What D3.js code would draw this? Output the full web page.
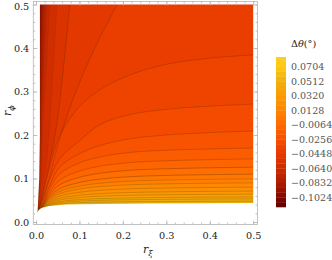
<!DOCTYPE html>
<html>
<head>
<meta charset="utf-8">
<script src="https://cdn.jsdelivr.net/npm/d3@7"></script>
<style>
  html, body { margin: 0; padding: 0; background: #fff; }
  svg text { font-family: "DejaVu Serif", "Liberation Serif", serif !important; }
</style>
</head>
<body>
<svg width="332" height="260"></svg>
<script>
// tick labels
var axisTicks = [0, 0.1, 0.2, 0.3, 0.4, 0.5];
var minorTicks = d3.range(0, 26).map(function(i) { return i / 50; });
var legendTicks = [0.0704, 0.0512, 0.032, 0.0128, -0.0064, -0.0256, -0.0448, -0.064, -0.0832, -0.1024];

// band edges of the legend, dark to yellow
var bandEdges = [-0.1152, -0.1088, -0.1024, -0.096, -0.0896, -0.0832, -0.0768, -0.0704, -0.064, -0.0576,
    -0.0512, -0.0448, -0.0384, -0.032, -0.0256, -0.0192, -0.0128, -0.0064, 0, 0.0064, 0.0128, 0.0192,
    0.0256, 0.032, 0.0384, 0.0448, 0.0512, 0.0576, 0.064, 0.0704, 0.0768, 0.0832];
var colorValues = [-0.1152, -0.1024, -0.0832, -0.064, -0.0448, -0.0256, -0.0064, 0.0128, 0.032, 0.0512, 0.0704, 0.0832];
var colorRange = ["#5a0000", "#860800", "#ac1c00", "#cc2c00", "#e83a00", "#f64e00", "#ff6a00", "#ff8400", "#fb9a04", "#eeb00c", "#ffc814", "#ffd020"];
var plotGold = "#e4ac10";

// outline of the region where the surface exists
var domainEdge = [[0.009, 0.5], [0.009, 0.2], [0.0075, 0.1], [0.005, 0.05], [0.0035, 0.021], [0.006, 0.027], [0.009, 0.03],
    [0.014, 0.0325], [0.021, 0.0345], [0.03, 0.0365], [0.044, 0.038], [0.07, 0.04], [0.1, 0.041], [0.25, 0.0428], [0.5, 0.0437], [0.5, 0.5]];

// contours that run up to the top edge, read as [x, y], lowest level first
var steep0 = [[0.003, 0.028], [0.0035, 0.06], [0.004, 0.12], [0.0048, 0.234], [0.0055, 0.36], [0.0062, 0.5]];
var steep1 = [[0.0032, 0.028], [0.004, 0.06], [0.005, 0.12], [0.006, 0.234], [0.007, 0.36], [0.0085, 0.5]];
var steep2 = [[0.0035, 0.028], [0.0045, 0.06], [0.0055, 0.12], [0.007, 0.234], [0.0085, 0.36], [0.0105, 0.5]];
var steep3 = [[0.0038, 0.028], [0.005, 0.06], [0.0065, 0.12], [0.0085, 0.234], [0.0105, 0.36], [0.013, 0.5]];
var steep4 = [[0.004, 0.03], [0.0055, 0.06], [0.0075, 0.12], [0.01, 0.234], [0.0125, 0.36], [0.016, 0.5]];
var steep5 = [[0.004, 0.03], [0.006, 0.06], [0.0085, 0.12], [0.011, 0.234], [0.015, 0.36], [0.02, 0.5]];
var steep6 = [[0.004, 0.03], [0.007, 0.06], [0.01, 0.12], [0.013, 0.234], [0.018, 0.36], [0.025, 0.5]];
var steep7 = [[0.004, 0.028], [0.008, 0.05], [0.012, 0.1], [0.016, 0.234], [0.024, 0.36], [0.032, 0.5]];
var steep8 = [[0.005, 0.028], [0.01, 0.05], [0.016, 0.09], [0.024, 0.14], [0.032, 0.234], [0.04, 0.36], [0.048, 0.5]];
var steep9 = [[0.006, 0.028], [0.012, 0.05], [0.02, 0.09], [0.03, 0.13], [0.04, 0.18], [0.05, 0.24], [0.065, 0.37], [0.078, 0.5]];
var steep10 = [[0.006, 0.028], [0.014, 0.05], [0.03, 0.1], [0.05, 0.175], [0.07, 0.24], [0.1, 0.32], [0.14, 0.41], [0.187, 0.5]];
var steepContours = [steep0, steep1, steep2, steep3, steep4, steep5, steep6, steep7, steep8, steep9, steep10];

// contours that run across to the right edge, y read at each contourX, highest first
var contourX = [0.006, 0.014, 0.032, 0.055, 0.1, 0.147, 0.217, 0.3, 0.4, 0.5];
var flat0 = [0.027, 0.0558, 0.1278, 0.1988, 0.2654, 0.3038, 0.3383, 0.3626, 0.3767, 0.384];
var flat1 = [0.027, 0.0456, 0.1, 0.1458, 0.1865, 0.2238, 0.2471, 0.259, 0.2663, 0.271];
var flat2 = [0.027, 0.0403, 0.0856, 0.1266, 0.1567, 0.1759, 0.1913, 0.2, 0.2055, 0.209];
var flat3 = [0.027, 0.0371, 0.0777, 0.111, 0.1357, 0.1494, 0.16, 0.1649, 0.1679, 0.17];
var flat4 = [0.027, 0.0361, 0.0694, 0.0967, 0.117, 0.1281, 0.1367, 0.1408, 0.1433, 0.145];
var flat5 = [0.027, 0.0353, 0.0632, 0.0859, 0.1027, 0.112, 0.119, 0.1224, 0.1246, 0.126];
var flat6 = [0.027, 0.0347, 0.0579, 0.0768, 0.0907, 0.0984, 0.1042, 0.107, 0.1088, 0.11];
var flat7 = [0.027, 0.0342, 0.0542, 0.0705, 0.0825, 0.089, 0.0939, 0.0964, 0.098, 0.099];
var flat8 = [0.027, 0.0339, 0.0513, 0.0654, 0.0757, 0.0814, 0.0856, 0.0877, 0.0891, 0.09];
var flat9 = [0.027, 0.0335, 0.048, 0.0597, 0.0682, 0.0729, 0.0763, 0.078, 0.0793, 0.08];
var flat10 = [0.027, 0.0331, 0.045, 0.0546, 0.0615, 0.0652, 0.0679, 0.0693, 0.0704, 0.071];
var flat11 = [0.027, 0.0328, 0.0427, 0.0506, 0.0562, 0.0593, 0.0614, 0.0626, 0.0635, 0.064];
var flat12 = [0.027, 0.0326, 0.0406, 0.0469, 0.0514, 0.0537, 0.0553, 0.0563, 0.0571, 0.0575];
var flat13 = [0.026, 0.0324, 0.0391, 0.0443, 0.048, 0.0499, 0.0511, 0.052, 0.0527, 0.053];
var flat14 = [0.026, 0.032, 0.0374, 0.0415, 0.0442, 0.0457, 0.0465, 0.0471, 0.0477, 0.048];
var flatContours = [flat0, flat1, flat2, flat3, flat4, flat5, flat6, flat7, flat8, flat9, flat10, flat11, flat12, flat13, flat14];

var svg = d3.select("svg");
var x = d3.scaleLinear().domain([0, 0.5]).range([36, 253.2]);
var y = d3.scaleLinear().domain([0, 0.5]).range([222, 4.5]);
var left = 33.3, right = 257.5, top_ = 1.5, bottom = 224.5;
var color = d3.scaleLinear().domain(colorValues).range(colorRange);

svg.append("rect").attr("width", 332).attr("height", 260).attr("fill", "#fff");

var line = d3.line().x(d => x(d[0])).y(d => y(d[1])).curve(d3.curveCatmullRom.alpha(0.5));
var edgeLine = d3.line().x(d => x(d[0])).y(d => y(d[1]));

// steep contours first, then the flat ones, each painted over everything to its lower right
var contours = steepContours
    .concat(flatContours.map(function(ys) { return ys.map(function(v, i) { return [contourX[i], v]; }); }));

var plot = svg.append("g");
plot.append("rect")
    .attr("x", x(0)).attr("y", y(0.5))
    .attr("width", x(0.5) - x(0)).attr("height", y(0) - y(0.5))
    .attr("fill", color((bandEdges[0] + bandEdges[1]) / 2));

contours.forEach(function(c, i) {
    var mid = (bandEdges[i + 1] + bandEdges[i + 2]) / 2;
    var end = c[c.length - 1];
    var first = c[0];
    var tail = end[1] >= 0.5
        ? "L" + x(0.5) + "," + y(0.5) + "L" + x(0.5) + "," + y(0) + "L" + x(first[0]) + "," + y(0) + "Z"
        : "L" + x(0.5) + "," + y(0) + "L" + x(first[0]) + "," + y(0) + "Z";
    plot.append("path").attr("d", line(c) + tail)
        .attr("fill", i === contours.length - 1 ? plotGold : color(mid));
});

contours.forEach(function(c, i) {
    plot.append("path").attr("d", line(c))
        .attr("fill", "none")
        .attr("stroke", i > 17 ? "#6a4a00" : "#4a2000")
        .attr("stroke-opacity", i < 9 ? 0.22 : (i < 16 ? 0.4 : 0.5))
        .attr("stroke-width", i < 9 ? 0.5 : 0.6);
});

// white everywhere outside the surface, antialiased edge
plot.append("path")
    .attr("d", "M" + (left - 2) + "," + (top_ - 2) + "H" + (right + 2) + "V" + (bottom + 2) + "H" + (left - 2) + "Z" + edgeLine(domainEdge) + "Z")
    .attr("fill-rule", "evenodd")
    .attr("fill", "#fff");

// frame with major and minor ticks on all four sides
function drawAxis(axis, tx, ty, labels) {
    var g = svg.append("g").attr("transform", "translate(" + tx + "," + ty + ")");
    g.call(axis);
    g.selectAll("path").remove();
    g.selectAll("line").attr("stroke", "#b4b4b4").attr("stroke-width", 0.8);
    if (labels) g.selectAll("text").attr("font-size", 9.7).attr("fill", "#222");
    return g;
}
var fmt = d3.format(".1f");
drawAxis(d3.axisBottom(x).tickValues(minorTicks).tickSize(-2).tickFormat(""), 0, bottom);
drawAxis(d3.axisTop(x).tickValues(minorTicks).tickSize(-2).tickFormat(""), 0, top_);
drawAxis(d3.axisLeft(y).tickValues(minorTicks).tickSize(-2).tickFormat(""), left, 0);
drawAxis(d3.axisRight(y).tickValues(minorTicks).tickSize(-2).tickFormat(""), right, 0);
drawAxis(d3.axisTop(x).tickValues(axisTicks).tickSize(-4).tickFormat(""), 0, top_);
drawAxis(d3.axisRight(y).tickValues(axisTicks).tickSize(-4).tickFormat(""), right, 0);
var xa = drawAxis(d3.axisBottom(x).tickValues(axisTicks).tickSize(-4).tickPadding(8).tickFormat(fmt), 0, bottom, true);
var ya = drawAxis(d3.axisLeft(y).tickValues(axisTicks).tickSize(-4).tickPadding(4).tickFormat(fmt), left, 0, true);
ya.selectAll(".tick").filter(d => d === 0.5).select("text").attr("dy", "0.5em");

svg.append("rect")
    .attr("x", left).attr("y", top_)
    .attr("width", right - left).attr("height", bottom - top_)
    .attr("fill", "none").attr("stroke", "#b4b4b4").attr("stroke-width", 0.8);

// axis titles
var xt = svg.append("text").attr("x", 143).attr("y", 253).attr("font-size", 11).attr("fill", "#222");
xt.append("tspan").attr("font-style", "italic").text("r");
xt.append("tspan").attr("font-style", "italic").attr("font-size", 8).attr("dy", 3).text("ξ");

var yt = svg.append("text").attr("transform", "translate(11,116) rotate(-90)").attr("font-size", 11).attr("fill", "#222");
yt.append("tspan").attr("font-style", "italic").text("r");
yt.append("tspan").attr("font-style", "italic").attr("font-size", 8).attr("dy", 3).text("ϕ");

// legend
var ly = d3.scaleLinear().domain([-0.1152, 0.0832]).range([207, 57]);
var legend = svg.append("g");
legend.selectAll("rect")
    .data(d3.pairs(bandEdges))
    .enter().append("rect")
    .attr("x", 276)
    .attr("y", d => ly(d[1]))
    .attr("width", 10)
    .attr("height", d => ly(d[0]) - ly(d[1]) + 0.3)
    .attr("fill", d => color((d[0] + d[1]) / 2));

legend.selectAll("text.tick")
    .data(legendTicks)
    .enter().append("text")
    .attr("class", "tick")
    .attr("x", 291)
    .attr("y", d => ly(d) + 3.5)
    .attr("font-size", 9.5)
    .attr("fill", "#555")
    .text(d => d3.format(".4f")(d).replace("-", "−"));

var title = svg.append("text").attr("x", 291).attr("y", 47).attr("font-size", 9.7).attr("fill", "#222");
title.append("tspan").text("Δ");
title.append("tspan").attr("font-style", "italic").text("θ");
title.append("tspan").text("(°)");
</script>
</body>
</html>
